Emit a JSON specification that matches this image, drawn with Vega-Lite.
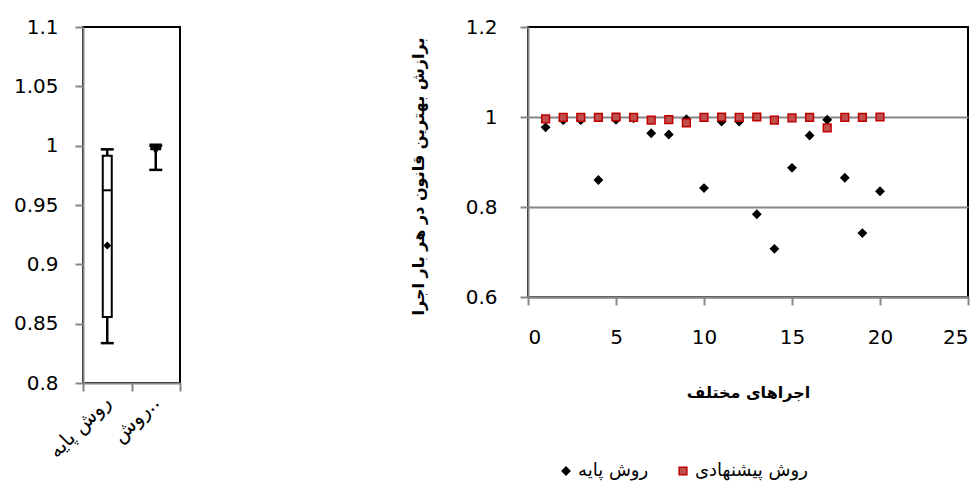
{
  "$schema": "https://vega.github.io/schema/vega-lite/v6.json",
  "padding": {"left": 12, "top": 16, "right": 5, "bottom": 5},
  "background": "#ffffff",
  "config": {
    "view": {"stroke": "#000000", "strokeWidth": 2},
    "axis": {
      "domainColor": "#868686", "domainWidth": 2,
      "tickColor": "#868686", "tickWidth": 2, "tickSize": 8,
      "labelFont": "DejaVu Sans", "labelFontSize": 20, "labelColor": "#000000",
      "titleFont": "DejaVu Sans", "titleColor": "#000000",
      "grid": false
    }
  },
  "resolve": {"legend": {"shape": "independent", "fill": "independent", "stroke": "independent"}},
  "spacing": 227,
  "hconcat": [
    {
      "width": 97,
      "height": 356,
      "data": {"values": [
        {"method": "روش پایه", "min": 0.8336, "q1": 0.8556, "median": 0.9624, "q3": 0.9916, "max": 0.9969, "mean": 0.9158},
        {"method": "روش پیشنهادی", "min": 0.9796, "q1": 0.997, "median": 0.999, "q3": 1.0, "max": 1.0, "mean": 0.9972}
      ]},
      "encoding": {
        "x": {
          "field": "method", "type": "nominal",
          "sort": ["روش پایه", "روش پیشنهادی"],
          "scale": {"paddingInner": 0, "paddingOuter": 0},
          "axis": {
            "title": null, "labelAngle": -45, "tickBand": "extent",
            "labelFontSize": 20, "labelPadding": 8,
            "labelAlign": "right", "labelBaseline": "middle",
            "labelExpr": "datum.label == 'روش پیشنهادی' ? 'روش..' : datum.label"
          }
        }
      },
      "layer": [
        {
          "mark": {"type": "rule", "strokeWidth": 2.5, "color": "#000000"},
          "encoding": {
            "y": {
              "field": "min", "type": "quantitative",
              "scale": {"domain": [0.8, 1.1], "nice": false, "zero": false},
              "axis": {"title": null, "values": [0.8, 0.85, 0.9, 0.95, 1, 1.05, 1.1], "format": ".2~f", "labelPadding": 17}
            },
            "y2": {"field": "max"}
          }
        },
        {
          "mark": {"type": "tick", "size": 13, "thickness": 2.5, "color": "#000000", "opacity": 1},
          "encoding": {"y": {"field": "min", "type": "quantitative"}}
        },
        {
          "mark": {"type": "tick", "size": 13, "thickness": 2.5, "color": "#000000", "opacity": 1},
          "encoding": {"y": {"field": "max", "type": "quantitative"}}
        },
        {
          "mark": {"type": "bar", "size": 9, "fill": "#ffffff", "stroke": "#000000", "strokeWidth": 2},
          "encoding": {"y": {"field": "q1", "type": "quantitative"}, "y2": {"field": "q3"}}
        },
        {
          "mark": {"type": "tick", "size": 9, "thickness": 2, "color": "#000000", "opacity": 1},
          "encoding": {"y": {"field": "median", "type": "quantitative"}}
        },
        {
          "transform": [{"filter": "datum.method == 'روش پایه'"}],
          "mark": {"type": "point", "shape": "diamond", "filled": true, "color": "#000000", "opacity": 1, "size": 64},
          "encoding": {"y": {"field": "mean", "type": "quantitative"}}
        },
        {
          "transform": [{"filter": "datum.method == 'روش پیشنهادی'"}],
          "mark": {"type": "point", "shape": "triangle-down", "filled": true, "color": "#000000", "opacity": 1, "size": 160},
          "encoding": {"y": {"field": "mean", "type": "quantitative"}}
        }
      ]
    },
    {
      "width": 440,
      "height": 270,
      "data": {"values": [
        {"run": 1, "method": "روش پایه", "value": 0.977},
        {"run": 2, "method": "روش پایه", "value": 0.993},
        {"run": 3, "method": "روش پایه", "value": 0.993},
        {"run": 4, "method": "روش پایه", "value": 0.860},
        {"run": 5, "method": "روش پایه", "value": 0.994},
        {"run": 6, "method": "روش پایه", "value": 0.997},
        {"run": 7, "method": "روش پایه", "value": 0.964},
        {"run": 8, "method": "روش پایه", "value": 0.961},
        {"run": 9, "method": "روش پایه", "value": 0.995},
        {"run": 10, "method": "روش پایه", "value": 0.842},
        {"run": 11, "method": "روش پایه", "value": 0.990},
        {"run": 12, "method": "روش پایه", "value": 0.990},
        {"run": 13, "method": "روش پایه", "value": 0.784},
        {"run": 14, "method": "روش پایه", "value": 0.707},
        {"run": 15, "method": "روش پایه", "value": 0.887},
        {"run": 16, "method": "روش پایه", "value": 0.959},
        {"run": 17, "method": "روش پایه", "value": 0.994},
        {"run": 18, "method": "روش پایه", "value": 0.865},
        {"run": 19, "method": "روش پایه", "value": 0.742},
        {"run": 20, "method": "روش پایه", "value": 0.835},
        {"run": 1, "method": "روش پیشنهادی", "value": 0.996},
        {"run": 2, "method": "روش پیشنهادی", "value": 0.999},
        {"run": 3, "method": "روش پیشنهادی", "value": 0.999},
        {"run": 4, "method": "روش پیشنهادی", "value": 0.999},
        {"run": 5, "method": "روش پیشنهادی", "value": 1.000},
        {"run": 6, "method": "روش پیشنهادی", "value": 0.999},
        {"run": 7, "method": "روش پیشنهادی", "value": 0.993},
        {"run": 8, "method": "روش پیشنهادی", "value": 0.994},
        {"run": 9, "method": "روش پیشنهادی", "value": 0.987},
        {"run": 10, "method": "روش پیشنهادی", "value": 0.999},
        {"run": 11, "method": "روش پیشنهادی", "value": 1.000},
        {"run": 12, "method": "روش پیشنهادی", "value": 0.999},
        {"run": 13, "method": "روش پیشنهادی", "value": 1.000},
        {"run": 14, "method": "روش پیشنهادی", "value": 0.993},
        {"run": 15, "method": "روش پیشنهادی", "value": 0.998},
        {"run": 16, "method": "روش پیشنهادی", "value": 0.999},
        {"run": 17, "method": "روش پیشنهادی", "value": 0.976},
        {"run": 18, "method": "روش پیشنهادی", "value": 0.999},
        {"run": 19, "method": "روش پیشنهادی", "value": 0.999},
        {"run": 20, "method": "روش پیشنهادی", "value": 1.000}
      ]},
      "mark": {"type": "point", "filled": true, "opacity": 1, "strokeWidth": 1.5, "size": 60},
      "encoding": {
        "x": {
          "field": "run", "type": "quantitative",
          "scale": {"domain": [0, 25], "nice": false},
          "axis": {
            "values": [0, 5, 10, 15, 20, 25], "title": "اجراهای مختلف",
            "labelPadding": 22, "titleFontWeight": "bold", "titleFontSize": 16, "titlePadding": 37
          }
        },
        "y": {
          "field": "value", "type": "quantitative",
          "scale": {"domain": [0.6, 1.2], "nice": false, "zero": false},
          "axis": {
            "values": [0.6, 0.8, 1, 1.2], "format": ".1~f",
            "grid": true, "gridWidth": 2,
            "gridColor": {"condition": {"test": "datum.value > 1.1", "value": "transparent"}, "value": "#868686"},
            "title": "برازش بهترین قانون در هر بار اجرا",
            "titleFontWeight": "bold", "titleFontSize": 16,
            "labelPadding": 23, "titlePadding": 39, "titleY": 149
          }
        },
        "shape": {
          "field": "method", "type": "nominal",
          "scale": {"domain": ["روش پایه", "روش پیشنهادی"], "range": ["diamond", "square"]},
          "legend": {"orient": "none", "legendX": 29, "legendY": 435, "direction": "horizontal", "title": null, "labelFont": "DejaVu Sans", "labelFontSize": 18, "labelColor": "#000000", "symbolSize": 60, "columnPadding": 25, "labelOffset": 3}
        },
        "fill": {
          "field": "method", "type": "nominal",
          "scale": {"domain": ["روش پایه", "روش پیشنهادی"], "range": ["#000000", "#C0504D"]}
        },
        "stroke": {
          "field": "method", "type": "nominal",
          "scale": {"domain": ["روش پایه", "روش پیشنهادی"], "range": ["#000000", "#C00000"]}
        }
      }
    }
  ]
}
